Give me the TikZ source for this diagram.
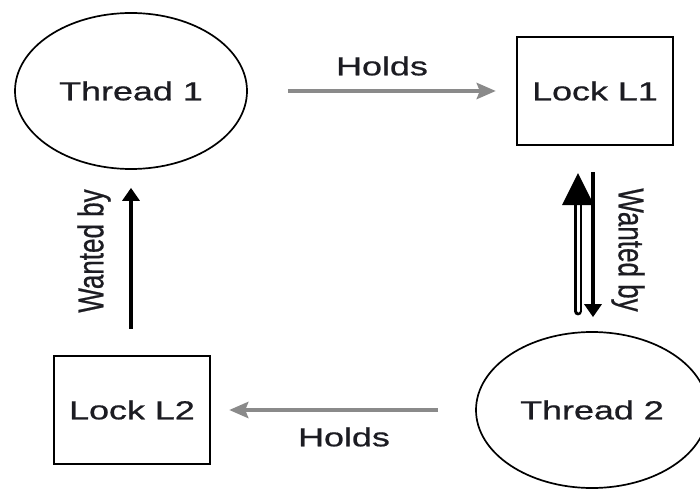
\documentclass[tikz,border=0pt]{standalone}
\usepackage{graphicx}
\usepackage{fontspec}
\setmainfont{Liberation Sans}
\newfontface\labelfont{Liberation Sans}[FakeBold=0.7]
\usepackage{tikz}
\usetikzlibrary{arrows.meta,shapes.geometric}
\definecolor{holdgray}{RGB}{138,138,138}
\definecolor{ink}{RGB}{28,28,34}
% text is stretched sideways, boxes and rings are drawn wide to match
\newcommand{\widetext}[1]{\scalebox{1.38}[1]{#1}}
\newcommand{\talltext}[1]{\scalebox{1}[1.38]{#1}}
\tikzset{
  thread/.style ={ellipse,draw,line width=1.7pt,minimum width=232pt,minimum height=156pt,inner sep=0pt,text=ink},
  lock/.style   ={rectangle,draw,line width=2.4pt,minimum width=156pt,minimum height=108pt,inner sep=0pt,text=ink},
  tag/.style    ={inner sep=0pt,text=ink},
  holds/.style  ={draw=holdgray,line width=4pt,-{Stealth[length=19pt,width=16pt,inset=3pt]}},
  wanted/.style ={draw=black,line width=3.6pt,-{Triangle[length=13pt,width=17pt]}},
  hollow/.style ={draw=black,line width=2.8pt,double=white,double distance=3pt,line cap=round},
}

\begin{document}
\begin{tikzpicture}[x=1pt,y=-1pt,font=\labelfont\fontsize{26}{30}\selectfont]
  \useasboundingbox[fill=white] (0,0) rectangle (700,489);
  \node[thread] (t1) at (131,91){\widetext{Thread 1}};  \node[lock] (l1) at (595,91){\widetext{Lock L1}};
  \node[lock]   (l2) at (132,410){\widetext{Lock L2}}; \node[thread] (t2) at (592,410){\widetext{Thread 2}};
  % holds
  \draw[holds,shorten <=40pt,shorten >=20pt] (t1) -- (l1);
  \draw[holds,shorten <=37pt,shorten >=18pt] (t2) -- (l2);
  \node[tag] (h1) at (382,66){\widetext{Holds}};
  \node[tag] (h2) at (344,437){\widetext{Holds}};
  % wanted by
  \draw[wanted,shorten <=26pt,shorten >=18pt] (l2.north -| t1.south) -- (t1.south);
  \draw[wanted,shorten <=26pt,shorten >=14pt] ([xshift=-2pt]l1.south) -- ([xshift=-2pt]l1.south |- t2.north);
  \draw[hollow,shorten <=20pt] ([xshift=-17pt]l1.south |- t2.north) -- ([xshift=-17pt,yshift=-54pt]l1.south);
  \fill ([xshift=-33pt,yshift=-59pt]l1.south) -- ([xshift=-17pt,yshift=-27pt]l1.south) -- ([xshift=-1pt,yshift=-59pt]l1.south) -- cycle;
  \node[tag,rotate=90]  (w1) at (94,251){\talltext{Wanted by}};
  \node[tag,rotate=-90] (w2) at (628,250){\talltext{Wanted by}};
\end{tikzpicture}
\end{document}
